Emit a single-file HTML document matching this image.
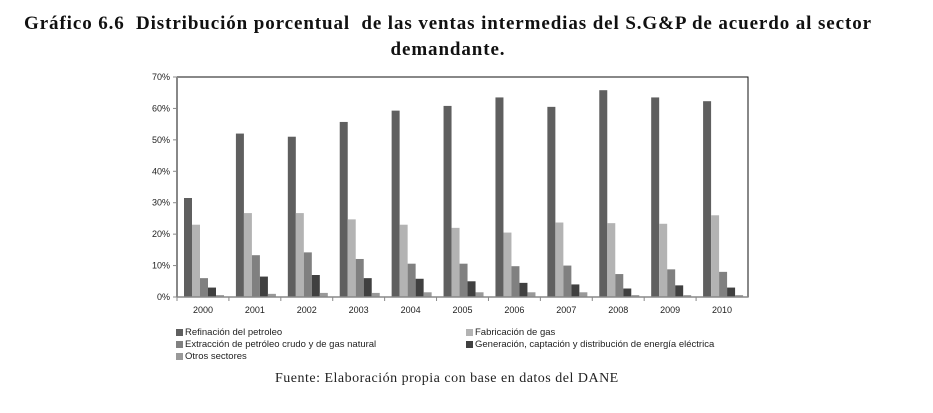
<!DOCTYPE html>
<html><head><meta charset="utf-8"><style>
body{margin:0;width:933px;height:413px;background:#fff;overflow:hidden;position:relative;font-family:"Liberation Sans",sans-serif}
.t{position:absolute;left:0;width:896px;text-align:center;font-family:"Liberation Serif",serif;font-weight:bold;font-size:19px;letter-spacing:0.9px;color:#111;white-space:nowrap}
.lg{position:absolute;font-size:9.5px;color:#222;white-space:nowrap}
.sw{display:inline-block;width:7px;height:7px;margin-right:2px;vertical-align:-1px}
</style></head><body>
<div class="t" style="top:13px">Gráfico 6.6&nbsp; Distribución porcentual&nbsp; de las ventas intermedias del S.G&amp;P de acuerdo al sector</div>
<div class="t" style="top:39px">demandante.</div>
<svg id="c" width="933" height="413" style="position:absolute;left:0;top:0"></svg>
<div class="lg" style="left:176px;top:327px"><span class="sw" style="background:#5f5f5f"></span>Refinación del petroleo</div>
<div class="lg" style="left:466px;top:327px"><span class="sw" style="background:#b3b3b3"></span>Fabricación de gas</div>
<div class="lg" style="left:176px;top:339px"><span class="sw" style="background:#808080"></span>Extracción de petróleo crudo y de gas natural</div>
<div class="lg" style="left:466px;top:339px"><span class="sw" style="background:#404040"></span>Generación, captación y distribución de energía eléctrica</div>
<div class="lg" style="left:176px;top:351px"><span class="sw" style="background:#999999"></span>Otros sectores</div>
<div style="position:absolute;left:275px;top:371px;font-family:'Liberation Serif',serif;font-size:14px;letter-spacing:0.5px;color:#222;white-space:nowrap">Fuente: Elaboración propia con base en datos del DANE</div>
<script>
const years=["2000","2001","2002","2003","2004","2005","2006","2007","2008","2009","2010"];
const refinacion=[31.5,52,51,55.7,59.3,60.8,63.5,60.5,65.8,63.5,62.3];
const gas=[23,26.7,26.7,24.7,23,22,20.5,23.7,23.5,23.3,26];
const extraccion=[6,13.3,14.2,12.1,10.6,10.6,9.8,10,7.3,8.8,8];
const energia=[3,6.5,7,6,5.8,5,4.5,4,2.7,3.7,3];
const otros=[0.6,1,1.3,1.3,1.5,1.5,1.5,1.5,0.6,0.6,0.6];
const yTicks=[0,10,20,30,40,50,60,70];
const series=[[refinacion,"#5f5f5f","refinacion"],[gas,"#b3b3b3","gas"],[extraccion,"#808080","extraccion"],[energia,"#404040","energia"],[otros,"#999999","otros"]];
const svg=document.getElementById('c'),NS="http://www.w3.org/2000/svg";
const L=177,R=748,T=77,B=297;
const y=v=>B-(v/70)*(B-T);
const cw=(R-L)/years.length;
const x=i=>L+i*cw;
function mk(t,a){const e=document.createElementNS(NS,t);for(const k in a)e.setAttribute(k,a[k]);svg.appendChild(e);return e;}
let e=mk('rect',{x:L,y:T,width:R-L,height:B-T,fill:'none',stroke:'#111','stroke-width':1});


yTicks.forEach(v=>{
 const t=mk('text',{x:L-7,y:y(v)+3,'text-anchor':'end','font-size':'9',fill:'#222'});t.textContent=v+'%';
 
 
 mk('line',{x1:L-4,x2:L,y1:y(v),y2:y(v),stroke:'#888'});
});
years.forEach((yr,i)=>{
 const t=mk('text',{x:x(i)+cw/2,y:B+16,'text-anchor':'middle','font-size':'9',fill:'#222'});t.textContent=yr;
 
 
 mk('line',{x1:x(i),x2:x(i),y1:B,y2:B+4,stroke:'#888'});
 series.forEach((s,j)=>{
  const v=s[0][i];
  const r=mk('rect',{x:x(i)+7+j*8,y:y(v),width:8,height:B-y(v),fill:s[1]});
  
  
 });
});
mk('line',{x1:L,x2:L,y1:T,y2:B,stroke:'#888','stroke-width':2});
mk('line',{x1:L,x2:R,y1:B,y2:B,stroke:'#888','stroke-width':1.5});
</script>
</body></html>
